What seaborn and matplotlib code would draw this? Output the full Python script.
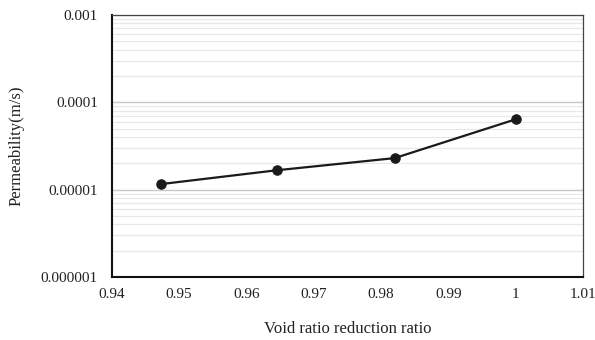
import pandas as pd
import seaborn as sns
import matplotlib.pyplot as plt
from matplotlib.ticker import LogLocator, FixedLocator, FuncFormatter

# data
ratio = [0.9473, 0.9645, 0.982, 1.0]
permeability = [1.16e-5, 1.67e-5, 2.30e-5, 6.4e-5]
x_ticks = [0.94, 0.95, 0.96, 0.97, 0.98, 0.99, 1.0, 1.01]
x_labels = ["0.94", "0.95", "0.96", "0.97", "0.98", "0.99", "1", "1.01"]
y_ticks = [1e-6, 1e-5, 1e-4, 1e-3]
y_labels = ["0.000001", "0.00001", "0.0001", "0.001"]

df = pd.DataFrame({"ratio": ratio, "k": permeability})

sns.set_style("white")
plt.rcParams['font.family'] = ['Liberation Serif', 'DejaVu Serif']

fig = plt.figure(figsize=(5.95, 3.4), dpi=100)
ax = fig.add_axes([0.188, 0.185, 0.792, 0.771])

sns.lineplot(data=df, x="ratio", y="k", ax=ax, color="#1a1a1a", linewidth=1.6,
             marker="o", markersize=6.8, markeredgecolor="#1a1a1a", zorder=3)

ax.set_yscale("log")
ax.set_xlim(0.94, 1.01)
ax.set_ylim(1e-6, 1e-3)
ax.xaxis.set_major_locator(FixedLocator(x_ticks))
ax.set_xticklabels(x_labels)
ax.yaxis.set_major_locator(FixedLocator(y_ticks))
ax.yaxis.set_major_formatter(FuncFormatter(lambda v, p: y_labels[y_ticks.index(min(y_ticks, key=lambda t: abs(t - v)))]))
ax.yaxis.set_minor_locator(LogLocator(base=10, subs=range(2, 10)))
ax.yaxis.set_minor_formatter(FuncFormatter(lambda v, p: ""))

ax.grid(which="major", axis="y", color="#c8c8c8", linewidth=1.0)
ax.grid(which="minor", axis="y", color="#e8e8e8", linewidth=0.9)
ax.grid(which="both", axis="x", visible=False)
ax.set_axisbelow(True)
ax.tick_params(which="both", length=0, labelsize=11, colors="#222222")
ax.tick_params(axis="y", pad=10)
ax.tick_params(axis="x", pad=8)

for side in ["left", "bottom"]:
    ax.spines[side].set_color("#111111")
    ax.spines[side].set_linewidth(1.5)
for side in ["top", "right"]:
    ax.spines[side].set_color("#444444")
    ax.spines[side].set_linewidth(0.9)

ax.set_xlabel("Void ratio reduction ratio", fontsize=12, color="#222222", labelpad=14)
ax.set_ylabel("Permeability(m/s)", fontsize=12, color="#222222", labelpad=12)

fig.savefig("out.png", dpi=100)
